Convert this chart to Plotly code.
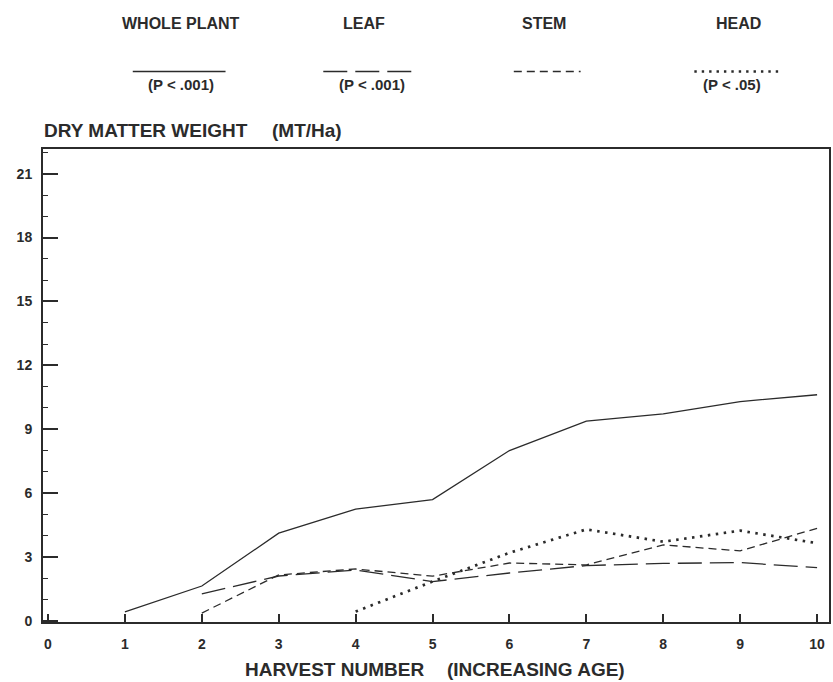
import plotly.graph_objects as go

# ---- data ----
whole_x = [1, 2, 3, 4, 5, 6, 7, 8, 9, 10]
whole_y = [0.42, 1.64, 4.12, 5.25, 5.70, 8.00, 9.38, 9.72, 10.30, 10.62]

leaf_x = [2, 3, 4, 5, 6, 7, 8, 9, 10]
leaf_y = [1.27, 2.11, 2.39, 1.85, 2.25, 2.60, 2.70, 2.74, 2.50]

stem_x = [2, 3, 4, 5, 6, 7, 8, 9, 10]
stem_y = [0.37, 2.16, 2.44, 2.10, 2.72, 2.63, 3.57, 3.29, 4.35]

head_x = [4, 5, 6, 7, 8, 9, 10]
head_y = [0.44, 1.85, 3.20, 4.30, 3.72, 4.24, 3.65]

series_names = ["WHOLE PLANT", "LEAF", "STEM", "HEAD"]
series_pvals = ["(P < .001)", "(P < .001)", "", "(P < .05)"]

x_ticks = list(range(0, 11))
y_ticks = list(range(0, 22, 3))

# ---- layout geometry ----
W, H = 833, 682
L, R, T, B = 43, 2, 149, 60
PW, PH = W - L - R, H - T - B
INK = "#2b2b2b"
FONT = "Liberation Sans, Arial, Helvetica, sans-serif"


def pxx(x):
    return (x - L) / PW


def pxy(y):
    return (H - B - y) / PH


styles = [
    dict(dash="solid", width=1.3),
    dict(dash="24px,8px", width=1.3),
    dict(dash="8px,5px", width=1.3),
    dict(dash="2.5px,5.5px", width=2.7),
]
data = [(whole_x, whole_y), (leaf_x, leaf_y), (stem_x, stem_y), (head_x, head_y)]

fig = go.Figure()
for (xs, ys), name, st in zip(data, series_names, styles):
    fig.add_trace(go.Scatter(
        x=xs, y=ys, mode="lines", name=name, showlegend=False,
        line=dict(color=INK, width=st["width"], dash=st["dash"]),
        hoverinfo="x+y+name",
    ))

# ---- custom legend (label above, sample line, p-value below) ----
legend_label_x = [181.5, 365, 545.5, 740]
legend_line_x = [(133, 226), (324, 418), (515, 582), (696, 785)]
legend_p_x = [181, 372.5, 545, 734]
annotations = []
shapes = []
for i, name in enumerate(series_names):
    annotations.append(dict(
        x=pxx(legend_label_x[i]), y=pxy(23), xref="paper", yref="paper",
        text=name, showarrow=False, xanchor="center", yanchor="middle",
        font=dict(family=FONT, size=16, color=INK, weight="bold"),
    ))
    x0, x1 = legend_line_x[i]
    shapes.append(dict(
        type="line", xref="paper", yref="paper",
        x0=pxx(x0), x1=pxx(x1), y0=pxy(71.5), y1=pxy(71.5),
        line=dict(color=INK, width=styles[i]["width"] if i != 3 else 2.4,
                  dash=styles[i]["dash"] if i != 3 else "2.4px,5px"),
    ))
    if series_pvals[i]:
        annotations.append(dict(
            x=pxx(legend_p_x[i]), y=pxy(84), xref="paper", yref="paper",
            text=series_pvals[i], showarrow=False, xanchor="center", yanchor="middle",
            font=dict(family=FONT, size=15, color=INK, weight="bold"),
        ))

# ---- axis titles ----
annotations.append(dict(
    x=pxx(42), y=pxy(130), xref="paper", yref="paper", text="DRY MATTER WEIGHT",
    showarrow=False, xanchor="left", yanchor="middle",
    font=dict(family=FONT, size=19, color=INK, weight="bold"),
))
annotations.append(dict(
    x=pxx(271), y=pxy(130), xref="paper", yref="paper", text="(MT/Ha)",
    showarrow=False, xanchor="left", yanchor="middle",
    font=dict(family=FONT, size=19, color=INK, weight="bold"),
))
annotations.append(dict(
    x=pxx(244), y=pxy(669), xref="paper", yref="paper", text="HARVEST NUMBER",
    showarrow=False, xanchor="left", yanchor="middle",
    font=dict(family=FONT, size=19, color=INK, weight="bold"),
))
annotations.append(dict(
    x=pxx(446), y=pxy(669), xref="paper", yref="paper", text="(INCREASING AGE)",
    showarrow=False, xanchor="left", yanchor="middle",
    font=dict(family=FONT, size=19, color=INK, weight="bold"),
))

fig.update_layout(
    width=W, height=H,
    margin=dict(l=L, r=R, t=T, b=B, pad=0),
    paper_bgcolor="#ffffff", plot_bgcolor="#ffffff",
    showlegend=False,
    annotations=annotations, shapes=shapes,
    font=dict(family=FONT, color=INK),
)
fig.update_xaxes(
    range=[-0.065, 10.155], tickmode="array", tickvals=x_ticks,
    ticktext=[str(v) for v in x_ticks],
    showgrid=False, zeroline=False,
    showline=True, linecolor=INK, linewidth=2, mirror=True,
    ticks="inside", ticklen=8, tickwidth=1.5, tickcolor=INK,
    tickfont=dict(family=FONT, size=14, color=INK, weight="bold"),
    ticklabelstandoff=8,
)
fig.update_yaxes(
    range=[-0.05, 22.16], tickmode="array", tickvals=y_ticks,
    ticktext=[str(v) for v in y_ticks],
    showgrid=False, zeroline=False,
    showline=True, linecolor=INK, linewidth=2, mirror=True,
    ticks="inside", ticklen=15, tickwidth=1.6, tickcolor=INK,
    minor=dict(dtick=1, tick0=0, ticks="inside", ticklen=5, tickwidth=1.3,
               tickcolor=INK, showgrid=False),
    tickfont=dict(family=FONT, size=14, color=INK, weight="bold"),
    ticklabelstandoff=6,
)

fig.write_html(
    "out.html",
    config={"displayModeBar": False},
    post_script="document.body.style.margin='0';document.body.style.overflow='hidden';",
)
